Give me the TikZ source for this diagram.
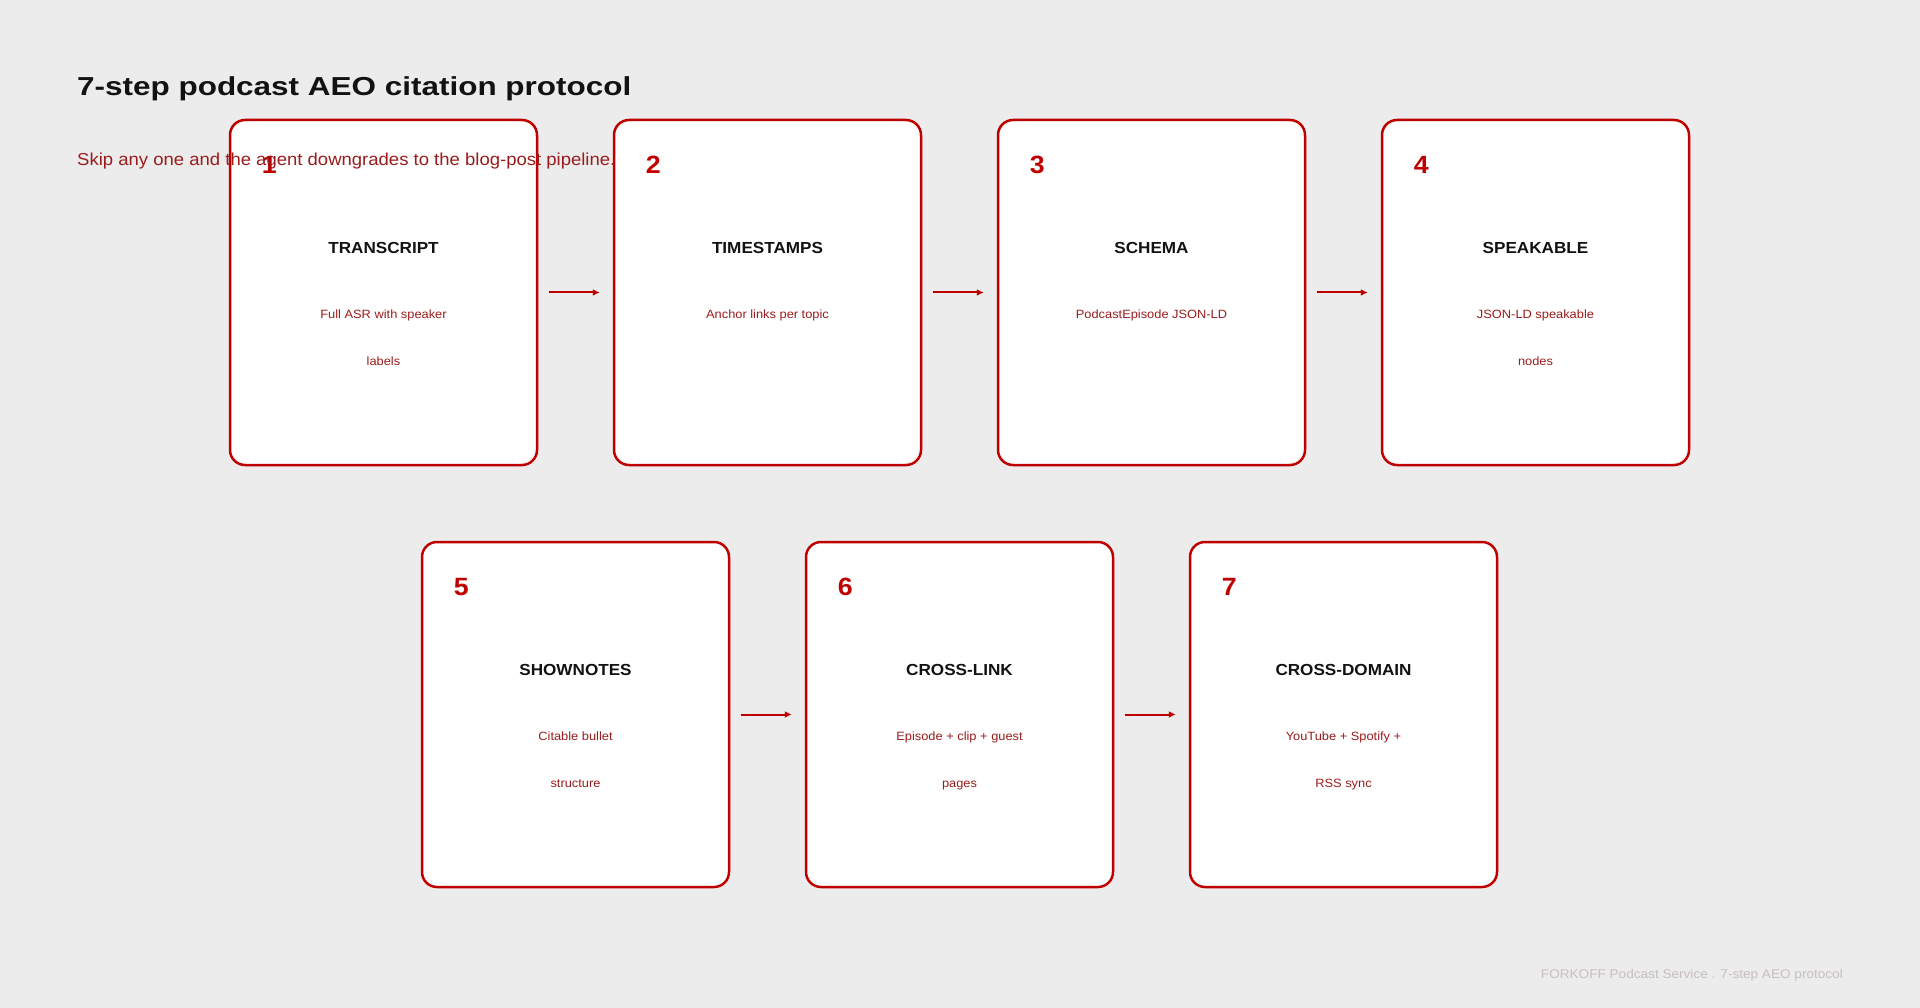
\documentclass[tikz,border=0pt]{standalone}
\usepackage{fontspec}
\setmainfont[FakeStretch=1.07]{Liberation Sans}
\newfontfamily\headfont[FakeStretch=1.21]{Liberation Sans}
\usetikzlibrary{positioning,arrows.meta}
\definecolor{carmine}{HTML}{C00000}
\definecolor{rust}{HTML}{9B1C1C}
\definecolor{paper}{HTML}{ECECEC}
\definecolor{ash}{HTML}{C8BEBE}

\begin{document}
\begin{tikzpicture}[x=1pt,y=-1pt,
  card/.style={draw=carmine,fill=white,line width=2.5pt,rounded corners=15pt,minimum width=307pt,minimum height=345pt,inner sep=0pt},
  stepno/.style={anchor=west,inner sep=0pt,text=carmine,font=\fontsize{25}{25}\selectfont\bfseries},
  stepname/.style={anchor=center,inner sep=0pt,text=black!93,font=\fontsize{16}{16}\selectfont\bfseries},
  stepdsc/.style={anchor=base,inner sep=0pt,text=rust,font=\fontsize{12}{12}\selectfont}]

\tikzset{>={Latex[width=7pt,length=7pt]}, flow/.style={->,draw=carmine,line width=2pt,shorten <=11pt,shorten >=13pt}}

\fill[paper] (0,0) rectangle (1920,1008);
\useasboundingbox (0,0) rectangle (1920,1008);

\node[anchor=base west,inner sep=0pt,text=black!93,font=\fontsize{26}{26}\headfont\bfseries] (head) at (77,96) {7-step podcast AEO citation protocol};

%===================================================================
\node[card] (s1) at (383.5,292.5) {};
\node[card,right=74.5pt of s1] (s2) {};
\node[card,right=74.5pt of s2] (s3) {};
\node[card,right=74.5pt of s3] (s4) {};

\node[stepno] (s1no) at ([xshift=33pt,yshift=-46pt]s1.north west) {1};
\node[stepname] (s1name) at ([yshift=-129pt]s1.north) {TRANSCRIPT};
\node[stepdsc] (s1dsca) at ([yshift=-200pt]s1.north) {Full ASR with speaker};
\node[stepdsc] (s1dscb) at ([yshift=-247pt]s1.north) {labels};

\node[stepno] (s2no) at ([xshift=33pt,yshift=-46pt]s2.north west) {2};
\node[stepname] (s2name) at ([yshift=-129pt]s2.north) {TIMESTAMPS};
\node[stepdsc] (s2dsca) at ([yshift=-200pt]s2.north) {Anchor links per topic};

\node[stepno] (s3no) at ([xshift=33pt,yshift=-46pt]s3.north west) {3};
\node[stepname] (s3name) at ([yshift=-129pt]s3.north) {SCHEMA};
\node[stepdsc] (s3dsca) at ([yshift=-200pt]s3.north) {PodcastEpisode JSON-LD};

\node[stepno] (s4no) at ([xshift=33pt,yshift=-46pt]s4.north west) {4};
\node[stepname] (s4name) at ([yshift=-129pt]s4.north) {SPEAKABLE};
\node[stepdsc] (s4dsca) at ([yshift=-200pt]s4.north) {JSON-LD speakable};
\node[stepdsc] (s4dscb) at ([yshift=-247pt]s4.north) {nodes};

\draw[flow] (s1)--(s2);
\draw[flow] (s2)--(s3);
\draw[flow] (s3)--(s4);

%===================================================================
\node[card] (s5) at (575.5,714.5) {};
\node[card,right=74.5pt of s5] (s6) {};
\node[card,right=74.5pt of s6] (s7) {};

\node[stepno] (s5no) at ([xshift=33pt,yshift=-46pt]s5.north west) {5};
\node[stepname] (s5name) at ([yshift=-129pt]s5.north) {SHOWNOTES};
\node[stepdsc] (s5dsca) at ([yshift=-200pt]s5.north) {Citable bullet};
\node[stepdsc] (s5dscb) at ([yshift=-247pt]s5.north) {structure};

\node[stepno] (s6no) at ([xshift=33pt,yshift=-46pt]s6.north west) {6};
\node[stepname] (s6name) at ([yshift=-129pt]s6.north) {CROSS-LINK};
\node[stepdsc] (s6dsca) at ([yshift=-200pt]s6.north) {Episode + clip + guest};
\node[stepdsc] (s6dscb) at ([yshift=-247pt]s6.north) {pages};

\node[stepno] (s7no) at ([xshift=33pt,yshift=-46pt]s7.north west) {7};
\node[stepname] (s7name) at ([yshift=-129pt]s7.north) {CROSS-DOMAIN};
\node[stepdsc] (s7dsca) at ([yshift=-200pt]s7.north) {YouTube + Spotify +};
\node[stepdsc] (s7dscb) at ([yshift=-247pt]s7.north) {RSS sync};

\draw[flow] (s5)--(s6);
\draw[flow] (s6)--(s7);

%===================================================================
\node[anchor=base west,inner sep=0pt,text=rust,font=\fontsize{17.3}{17.3}\selectfont] (lede) at (77,166) {Skip any one and the agent downgrades to the blog-post pipeline.};
\node[anchor=base east,inner sep=0pt,text=ash,font=\fontsize{12.7}{12.7}\selectfont] (foot) at (1843,978) {FORKOFF Podcast Service . 7-step AEO protocol};
\end{tikzpicture}
\end{document}
